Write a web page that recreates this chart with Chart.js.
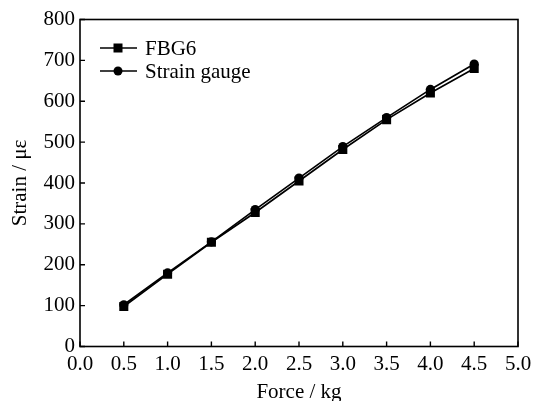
<!DOCTYPE html>
<html>
<head>
<meta charset="utf-8">
<script src="https://cdn.jsdelivr.net/npm/chart.js@4.4.1/dist/chart.umd.min.js"></script>
<style>
html,body{margin:0;padding:0;background:#fff;}
#wrap{width:545px;height:401px;position:relative;}
</style>
</head>
<body>
<div id="wrap"><canvas id="c" width="545" height="401"></canvas></div>
<script>
const forces = [0.5, 1.0, 1.5, 2.0, 2.5, 3.0, 3.5, 4.0, 4.5];
const fbg6 = [98, 177, 255, 328, 405, 482, 555, 620, 680];
const strainGauge = [102, 180, 256, 335, 412, 489, 560, 629, 691];
const seriesLabels = ["FBG6", "Strain gauge"];
const xTitle = "Force / kg";
const yTitle = "Strain / \u03bc\u03b5";

const FONT = "'Liberation Serif', 'Times New Roman', serif";
const FS = 21;

const boxPlugin = {
  id: 'boxAndTicks',
  afterDraw(chart) {
    const {ctx, chartArea: a, scales} = chart;
    ctx.save();
    ctx.strokeStyle = '#000';
    ctx.lineWidth = 1.6;
    ctx.strokeRect(a.left, a.top, a.right - a.left, a.bottom - a.top);
    ctx.lineWidth = 1.4;
    ctx.beginPath();
    scales.x.ticks.forEach(t => {
      const px = scales.x.getPixelForValue(t.value);
      ctx.moveTo(px, a.bottom);
      ctx.lineTo(px, a.bottom - 5);
    });
    scales.y.ticks.forEach(t => {
      const py = scales.y.getPixelForValue(t.value);
      ctx.moveTo(a.left, py);
      ctx.lineTo(a.left + 5, py);
    });
    ctx.stroke();
    // legend
    const ds = chart.data.datasets;
    ctx.font = FS + "px " + FONT;
    ctx.fillStyle = '#000';
    ctx.textBaseline = 'middle';
    ds.forEach((d, i) => {
      const y = 48 + i * 23;
      const x0 = 100, x1 = 137, xm = 118;
      ctx.lineWidth = 1.6;
      ctx.beginPath();
      ctx.moveTo(x0, y); ctx.lineTo(x1, y); ctx.stroke();
      if (d.pointStyle === 'rect') {
        ctx.fillRect(xm - 4.5, y - 4.5, 9, 9);
      } else {
        ctx.beginPath(); ctx.arc(xm, y, 4.5, 0, Math.PI * 2); ctx.fill();
      }
      ctx.fillText(d.label, 145, y + 1);
    });
    ctx.restore();
  }
};

new Chart(document.getElementById('c'), {
  type: 'line',
  data: {
    datasets: [
      {
        label: seriesLabels[0],
        data: forces.map((f, i) => ({x: f, y: fbg6[i]})),
        borderColor: '#000', backgroundColor: '#000', borderWidth: 1.7,
        pointStyle: 'rect', pointRadius: 6.4, pointBorderWidth: 0,
        tension: 0
      },
      {
        label: seriesLabels[1],
        data: forces.map((f, i) => ({x: f, y: strainGauge[i]})),
        borderColor: '#000', backgroundColor: '#000', borderWidth: 1.7,
        pointStyle: 'circle', pointRadius: 4.6, pointBorderWidth: 0,
        tension: 0
      }
    ]
  },
  options: {
    responsive: false,
    animation: false,
    devicePixelRatio: 1,
    layout: {padding: {top: 19.5, right: 27, bottom: 0, left: 0}},
    plugins: {legend: {display: false}, tooltip: {enabled: false}},
    scales: {
      x: {
        type: 'linear', min: 0, max: 5,
        grid: {display: false, drawTicks: false},
        border: {display: false},
        ticks: {stepSize: 0.5, color: '#000', padding: 5,
          font: {family: FONT, size: FS},
          callback: v => Number(v).toFixed(1), maxRotation: 0, autoSkip: false},
        title: {display: true, text: xTitle, color: '#000',
          font: {family: FONT, size: FS}, padding: {top: 0, bottom: -4}},
        afterFit(s) { s.height = 54.5; }
      },
      y: {
        type: 'linear', min: 0, max: 800,
        grid: {display: false, drawTicks: false},
        border: {display: false},
        ticks: {stepSize: 100, color: '#000', padding: 5,
          font: {family: FONT, size: FS}},
        title: {display: true, text: yTitle, color: '#000',
          font: {family: FONT, size: FS}, padding: {top: 8, bottom: 0}},
        afterFit(s) { s.width = 80; }
      }
    }
  },
  plugins: [boxPlugin]
});
</script>
</body>
</html>
